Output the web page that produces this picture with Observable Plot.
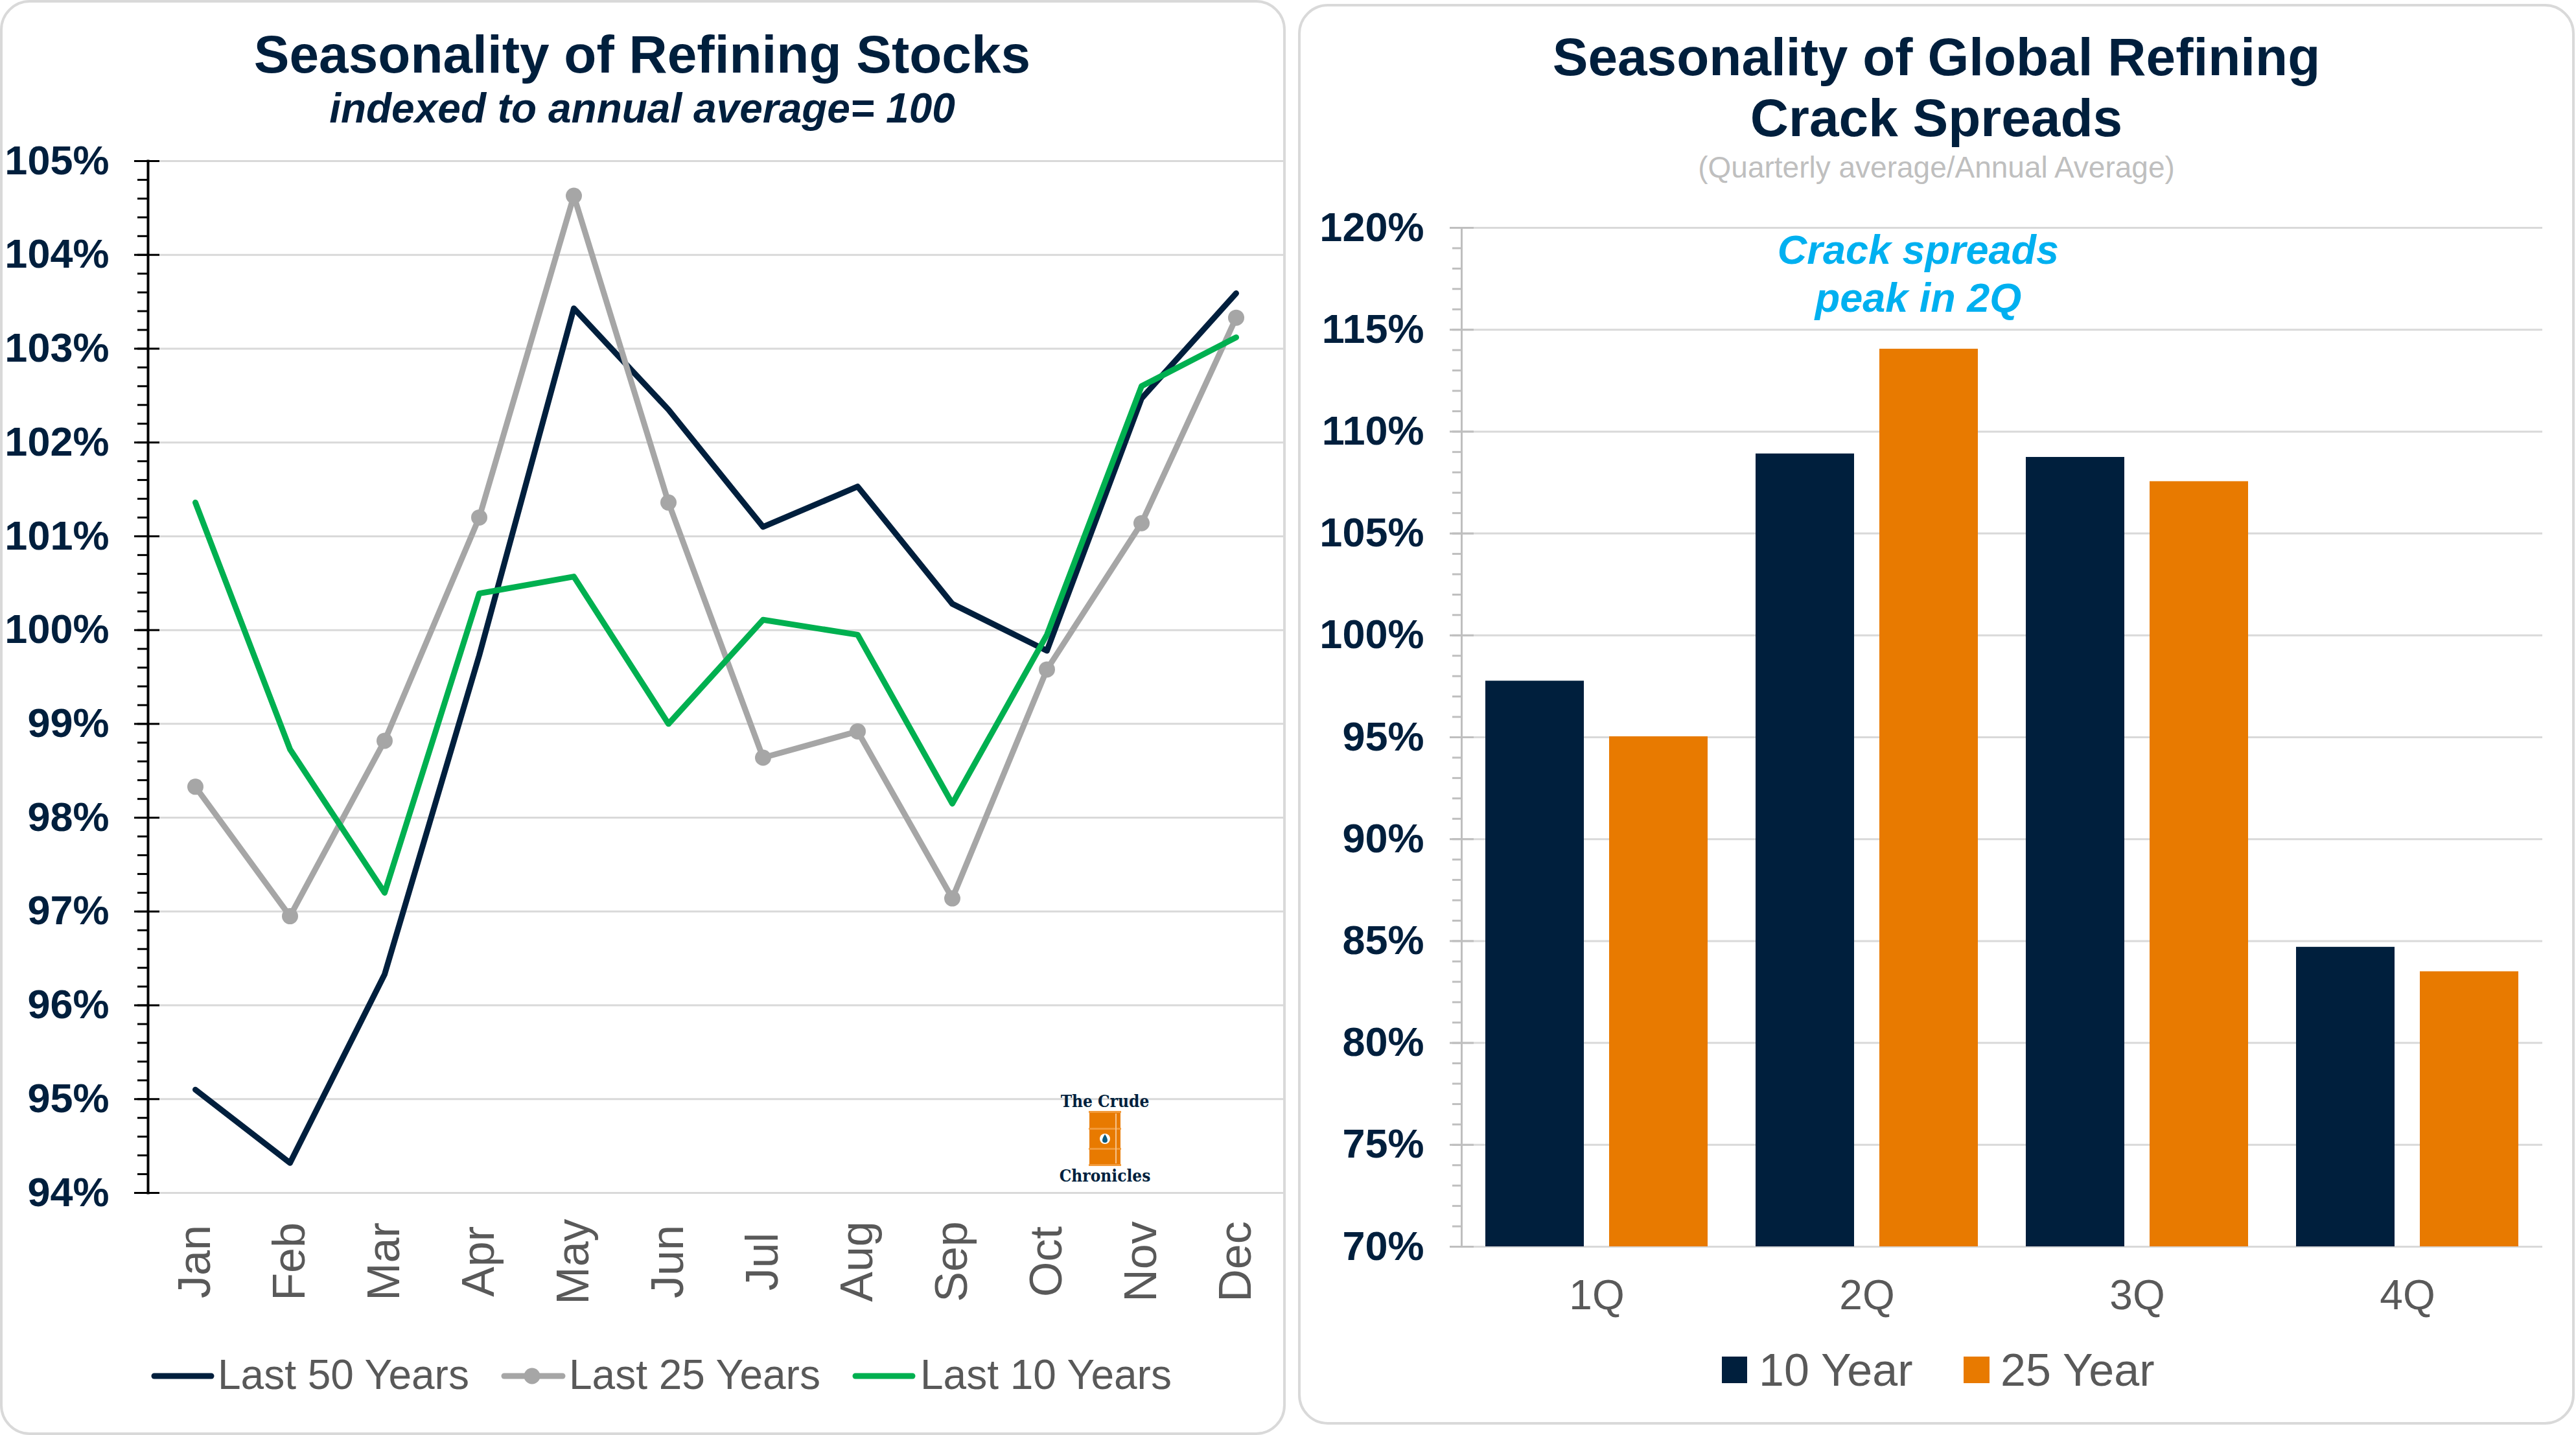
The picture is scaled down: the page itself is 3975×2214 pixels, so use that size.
<!DOCTYPE html>
<html><head><meta charset="utf-8">
<script src="https://cdn.jsdelivr.net/npm/d3@7"></script>
<script src="https://cdn.jsdelivr.net/npm/@observablehq/plot@0.6"></script>
<style>
html,body{margin:0;padding:0;background:#fff;}
body{width:3975px;height:2214px;position:relative;overflow:hidden;font-family:"Liberation Sans",Arial,sans-serif;}
.abs{position:absolute;white-space:nowrap;line-height:1;}
.ctr{transform:translateX(-50%);}
.panel{position:absolute;border:4px solid #d9d9d9;border-radius:46px;box-sizing:border-box;}
.plot{position:absolute;}
.leg{color:#595959;}
.logo{font-size:26px;font-weight:bold;color:#001F3D;font-family:'DejaVu Serif Condensed','DejaVu Serif',serif;}
</style></head><body>
<div class="panel" style="left:0px;top:0px;width:1984px;height:2214px"></div>
<div class="panel" style="left:2003px;top:6px;width:1970px;height:2192px"></div>

<div class="abs ctr" style="left:991px;top:43px;font-size:82px;font-weight:bold;color:#001F3D">Seasonality of Refining Stocks</div>
<div class="abs ctr" style="left:991px;top:135px;font-size:64px;font-weight:bold;font-style:italic;color:#001F3D">indexed to annual average= 100</div>

<div class="abs ctr" style="left:2988px;top:47px;font-size:82px;font-weight:bold;color:#001F3D">Seasonality of Global Refining</div>
<div class="abs ctr" style="left:2988px;top:141px;font-size:82px;font-weight:bold;color:#001F3D">Crack Spreads</div>
<div class="abs ctr" style="left:2988px;top:235px;font-size:46px;color:#bfbfbf">(Quarterly average/Annual Average)</div>
<div class="abs ctr" style="left:2960px;top:354px;font-size:63px;font-weight:bold;font-style:italic;color:#00B0F0">Crack spreads</div>
<div class="abs ctr" style="left:2960px;top:428px;font-size:63px;font-weight:bold;font-style:italic;color:#00B0F0">peak in 2Q</div>

<div id="left" class="plot" style="left:0px;top:200px"></div>
<div id="right" class="plot" style="left:2010px;top:300px"></div>

<!-- logo -->
<div class="abs ctr logo" style="left:1705px;top:1686px">The Crude</div>
<svg class="abs" style="left:1680px;top:1714px" width="50" height="85" viewBox="0 0 50 85">
  <rect x="1" y="0" width="48" height="85" fill="#E87A00"/>
  <rect x="0" y="0" width="50" height="3" fill="#F29A3A"/>
  <rect x="0" y="26" width="50" height="3" fill="#F29A3A"/>
  <rect x="0" y="57" width="50" height="3" fill="#F29A3A"/>
  <rect x="0" y="82" width="50" height="3" fill="#F29A3A"/>
  <rect x="41" y="4" width="2" height="77" fill="#F7C28A"/>
  <circle cx="25" cy="43" r="8" fill="#fff"/>
  <path d="M25 36 Q29 42 29 45 A4 4 0 0 1 21 45 Q21 42 25 36Z" fill="#0B5A80"/>
</svg>
<div class="abs ctr logo" style="left:1705px;top:1801px">Chronicles</div>

<!-- left legend -->
<svg class="abs" style="left:233px;top:2113px" width="98" height="20"><line x1="5" y1="10" x2="93" y2="10" stroke="#001F3D" stroke-width="9" stroke-linecap="round"/></svg>
<div class="abs leg" style="left:336px;top:2089px;font-size:64px">Last 50 Years</div>
<svg class="abs" style="left:773px;top:2103px" width="100" height="40"><line x1="5" y1="20" x2="95" y2="20" stroke="#A6A6A6" stroke-width="9" stroke-linecap="round"/><circle cx="48" cy="20" r="12.5" fill="#A6A6A6"/></svg>
<div class="abs leg" style="left:878px;top:2089px;font-size:64px">Last 25 Years</div>
<svg class="abs" style="left:1315px;top:2113px" width="98" height="20"><line x1="5" y1="10" x2="93" y2="10" stroke="#00B050" stroke-width="9" stroke-linecap="round"/></svg>
<div class="abs leg" style="left:1420px;top:2089px;font-size:64px">Last 10 Years</div>

<!-- right legend -->
<div class="abs" style="left:2657px;top:2093px;width:39px;height:41px;background:#001F3D"></div>
<div class="abs leg" style="left:2714px;top:2079px;font-size:70px">10 Year</div>
<div class="abs" style="left:3030px;top:2093px;width:40px;height:41px;background:#E87A00"></div>
<div class="abs leg" style="left:3087px;top:2079px;font-size:70px">25 Year</div>

<script>
// ---- Data: left chart (index, % of annual average) ----
const months = ["Jan","Feb","Mar","Apr","May","Jun","Jul","Aug","Sep","Oct","Nov","Dec"];
const last50 = [95.10, 94.32, 96.33, 99.73, 103.43, 102.35, 101.10, 101.53, 100.28, 99.78, 102.47, 103.59];
const last25 = [98.33, 96.95, 98.82, 101.20, 104.63, 101.36, 98.64, 98.92, 97.14, 99.58, 101.14, 103.33];
const last10 = [101.36, 98.73, 97.20, 100.39, 100.57, 99.00, 100.11, 99.95, 98.15, 99.95, 102.60, 103.12];
const leftMajorTicks = [94, 95, 96, 97, 98, 99, 100, 101, 102, 103, 104, 105];

// ---- Data: right chart (quarterly avg / annual avg, %) ----
const quarters = ["1Q", "2Q", "3Q", "4Q"];
const seriesNames = ["10 Year", "25 Year"];
const tenYear = [97.76, 108.91, 108.74, 84.70];
const twentyFiveYear = [95.03, 114.05, 107.55, 83.50];
const rightMajorTicks = [70, 75, 80, 85, 90, 95, 100, 105, 110, 115, 120];

const navy = "#001F3D", gray = "#A6A6A6", green = "#00B050", orange = "#E87A00";
const font = "'Liberation Sans', Arial, sans-serif";

const toRows = (vals) => months.map((m, i) => ({month: m, value: vals[i]}));
const r50 = toRows(last50), r25 = toRows(last25), r10 = toRows(last10);
const leftMinor = d3.range(94, 105.001, 0.2).map(v => +v.toFixed(1));

const left = Plot.plot({
  width: 1985, height: 1850,
  marginLeft: 228, marginRight: 5, marginTop: 48, marginBottom: 210,
  style: {fontFamily: font, background: "transparent", overflow: "visible"},
  x: {type: "point", domain: months, padding: 0.5},
  y: {domain: [94, 105]},
  marks: [
    Plot.ruleY(leftMajorTicks, {stroke: "#D9D9D9", strokeWidth: 3}),
    Plot.frame({anchor: "left", stroke: "#000", strokeWidth: 4}),
    Plot.axisY({ticks: leftMinor, tickSize: 16, text: null, stroke: "#000", strokeWidth: 3, label: null}),
    Plot.axisY({ticks: leftMajorTicks, tickSize: 21, text: null, stroke: "#000", strokeWidth: 3, label: null}),
    Plot.axisY({ticks: leftMajorTicks, tickSize: -18, text: null, stroke: "#000", strokeWidth: 3, label: null}),
    Plot.axisY({ticks: leftMajorTicks, tickSize: 0, tickPadding: 60, tickFormat: d => d + "%", fontSize: 63, fontWeight: "bold", fill: navy, label: null}),
    Plot.axisX({tickRotate: -90, tickSize: 0, tickPadding: 106, textAnchor: "middle", fontSize: 70, fill: "#595959", label: null}),
    Plot.line(r50, {x: "month", y: "value", stroke: navy, strokeWidth: 9, strokeLinecap: "round", strokeLinejoin: "round"}),
    Plot.line(r25, {x: "month", y: "value", stroke: gray, strokeWidth: 9, strokeLinecap: "round", strokeLinejoin: "round"}),
    Plot.dot(r25, {x: "month", y: "value", r: 12.5, fill: gray}),
    Plot.line(r10, {x: "month", y: "value", stroke: green, strokeWidth: 9, strokeLinecap: "round", strokeLinejoin: "round"})
  ]
});
document.getElementById("left").appendChild(left);

const barRows = [];
quarters.forEach((q, i) => {
  barRows.push({q, series: seriesNames[0], value: tenYear[i]});
  barRows.push({q, series: seriesNames[1], value: twentyFiveYear[i]});
});
const rightMinor = d3.range(70, 120.001, 1);

const right = Plot.plot({
  width: 1965, height: 1750,
  marginLeft: 244, marginRight: 52, marginTop: 51, marginBottom: 127,
  style: {fontFamily: font, background: "transparent", overflow: "visible"},
  fx: {domain: quarters, padding: 0},
  x: {domain: seriesNames, paddingInner: 0.203, paddingOuter: 0.189, axis: null},
  y: {domain: [70, 120]},
  color: {domain: seriesNames, range: [navy, orange]},
  marks: [
    Plot.ruleY(rightMajorTicks, {stroke: "#D9D9D9", strokeWidth: 3}),
    Plot.barY(barRows, {fx: "q", x: "series", y1: 70, y2: "value", fill: "series"}),
    Plot.frame({anchor: "left", facetAnchor: "left", stroke: "#BFBFBF", strokeWidth: 3}),
    Plot.axisY({ticks: rightMinor, tickSize: 14, text: null, stroke: "#BFBFBF", strokeWidth: 3, label: null}),
    Plot.axisY({ticks: rightMajorTicks, tickSize: 18, text: null, stroke: "#BFBFBF", strokeWidth: 3, label: null}),
    Plot.axisY({ticks: rightMajorTicks, tickSize: -19, text: null, stroke: "#BFBFBF", strokeWidth: 3, label: null}),
    Plot.axisY({ticks: rightMajorTicks, tickSize: 0, tickPadding: 58, tickFormat: d => d + "%", fontSize: 63, fontWeight: "bold", fill: navy, label: null}),
    Plot.axisFx({anchor: "bottom", tickSize: 0, tickPadding: 51, fontSize: 64, fill: "#595959", label: null})
  ]
});
document.getElementById("right").appendChild(right);
</script>
</body></html>
